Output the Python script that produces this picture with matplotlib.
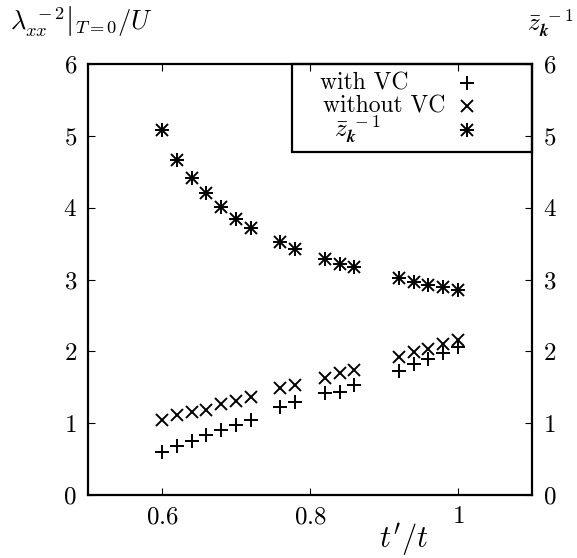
import matplotlib
matplotlib.use("Agg")
import matplotlib.pyplot as plt
from matplotlib.patches import Rectangle

plt.rcParams['mathtext.fontset'] = 'cm'
plt.rcParams['font.family'] = 'serif'
plt.rcParams['font.serif'] = ['cmr10', 'DejaVu Serif']
plt.rcParams['axes.formatter.use_mathtext'] = True

# data
tp_t = [0.60, 0.62, 0.64, 0.66, 0.68, 0.70, 0.72, 0.76, 0.78, 0.82, 0.84, 0.86,
        0.92, 0.94, 0.96, 0.98, 1.00]
with_vc = [0.60, 0.68, 0.75, 0.84, 0.91, 0.98, 1.05, 1.23, 1.29, 1.42, 1.44, 1.53,
           1.72, 1.83, 1.90, 1.97, 2.06]
without_vc = [1.04, 1.11, 1.15, 1.18, 1.27, 1.31, 1.37, 1.49, 1.53, 1.63, 1.70, 1.74,
              1.92, 1.99, 2.03, 2.10, 2.16]
zk_inv = [5.08, 4.67, 4.41, 4.20, 4.01, 3.84, 3.71, 3.52, 3.43, 3.29, 3.22, 3.17,
          3.02, 2.97, 2.92, 2.89, 2.85]

x_ticks = [0.6, 0.8, 1.0]
x_ticklabels = ['0.6', '0.8', '1']
y_ticks = [0, 1, 2, 3, 4, 5, 6]
y_ticklabels = ['0', '1', '2', '3', '4', '5', '6']

fig = plt.figure(figsize=(5.77, 5.58), dpi=100)
ax = fig.add_axes([88/577, 1-495/558, (532-88)/577, (495-64)/558])
ax.set_xlim(0.5, 1.1)
ax.set_ylim(0, 6)

ms = 10
mew = 1.4

def star(axis, xs, ys, **kw):
    axis.plot(xs, ys, linestyle='none', marker='+', ms=ms*1.05, mew=mew, color='black', **kw)
    axis.plot(xs, ys, linestyle='none', marker='x', ms=ms*0.8, mew=mew, color='black', **kw)

ax.plot(tp_t, with_vc, linestyle='none', marker='+', ms=ms, mew=mew, color='black')
ax.plot(tp_t, without_vc, linestyle='none', marker='x', ms=ms*0.9, mew=mew, color='black')
star(ax, tp_t, zk_inv)

ax.set_xticks(x_ticks)
ax.set_xticklabels([f'${s}$' for s in x_ticklabels])
ax.set_yticks(y_ticks)
ax.set_yticklabels([f'${s}$' for s in y_ticklabels])
ax.tick_params(direction='in', length=5, width=0.8, labelsize=18, top=True, right=True,
               labelright=True, pad=8)
for sp in ax.spines.values():
    sp.set_linewidth(1.6)

# legend box (gnuplot style)
def ax_x(px):
    return (px-88)/444
def ax_y(py):
    return (495-py)/431
x0 = ax_x(292)
y0 = ax_y(152)
ax.add_patch(Rectangle((x0, y0), 1-x0, 1-y0, transform=ax.transAxes, fill=False,
                       edgecolor='black', lw=1.6, zorder=5, clip_on=False))
ax.text(ax_x(320), ax_y(83), 'with VC', transform=ax.transAxes, fontsize=17,
        va='center', ha='left', family='serif')
ax.text(ax_x(323), ax_y(106), 'without VC', transform=ax.transAxes, fontsize=17,
        va='center', ha='left', family='serif')
ax.text(ax_x(334), ax_y(130), r'$\bar{z}_{\boldsymbol{k}}^{\ -1}$', transform=ax.transAxes,
        fontsize=18, va='center', ha='left')
ax.plot([ax_x(467)], [ax_y(83)], marker='+', ms=ms, mew=mew, color='black',
        transform=ax.transAxes, clip_on=False)
ax.plot([ax_x(467)], [ax_y(106)], marker='x', ms=ms*0.9, mew=mew, color='black',
        transform=ax.transAxes, clip_on=False)
star(ax, [ax_x(467)], [ax_y(130)], transform=ax.transAxes, clip_on=False)

# axis labels
fig.text(10/577, 1-22/558, r'$\left.\lambda_{xx}^{\ -2}\right|_{T=0}/U$', fontsize=19,
         ha='left', va='center')
fig.text(574/577, 1-24/558, r'$\bar{z}_{\boldsymbol{k}}^{\ -1}$', fontsize=18,
         ha='right', va='center')
fig.text(404/577, 1-540/558, r"$t'/t$", fontsize=22, ha='center', va='center')

fig.savefig('out.png', dpi=100)
